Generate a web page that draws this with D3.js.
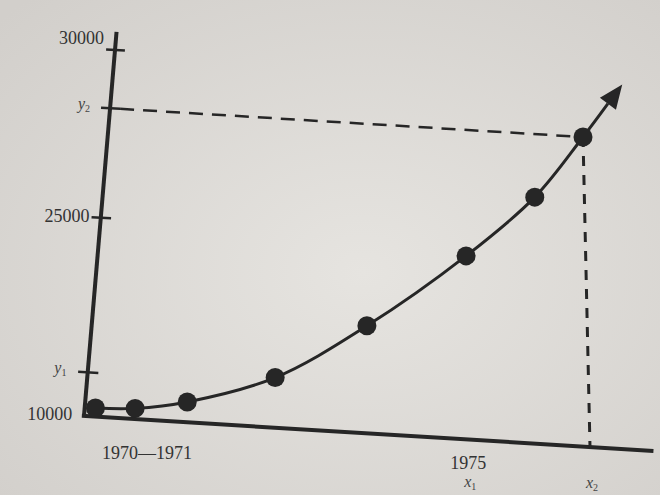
<!DOCTYPE html>
<html><head><meta charset="utf-8">
<script src="https://cdn.jsdelivr.net/npm/d3@7"></script>
<style>html,body{margin:0;padding:0;background:#dcdad6;}svg{display:block;}</style>
</head><body><svg id="c" width="660" height="495"></svg>
<script>
const years = [1970, 1970.56, 1971.29, 1972.52, 1973.81, 1975.24, 1976.26, 1977];
const values = [10622, 10777, 11477, 13653, 17927, 23756, 26356, 28220];
const arrowEnd = [1977.62, 29887];
const yTickValues = [10000, 25000, 30000];
const yTickLabels = ["10000", "25000", "30000"];
const ySymbolValues = [13187, 28220];
const ySymbolSubs = ["1", "2"];
const xLabelValues = [1970.74, 1975.28];
const xLabelTexts = ["1970\u20141971", "1975"];
const xSymbolValues = [1975.28, 1977];
const xSymbolSubs = ["1", "2"];

const svg = d3.select("#c");
const W = 660, H = 495;

// perspective of the photographed page: plot space -> screen
function gauss(A, b) {
  const n = b.length;
  for (let i = 0; i < n; i++) {
    let m = i;
    for (let r = i + 1; r < n; r++) if (Math.abs(A[r][i]) > Math.abs(A[m][i])) m = r;
    [A[i], A[m]] = [A[m], A[i]]; [b[i], b[m]] = [b[m], b[i]];
    for (let r = i + 1; r < n; r++) {
      const f = A[r][i] / A[i][i];
      for (let c = i; c < n; c++) A[r][c] -= f * A[i][c];
      b[r] -= f * b[i];
    }
  }
  const x = new Array(n).fill(0);
  for (let i = n - 1; i >= 0; i--) {
    let s = b[i];
    for (let c = i + 1; c < n; c++) s -= A[i][c] * x[c];
    x[i] = s / A[i][i];
  }
  return x;
}
const src = [[0, 0], [0, 370], [471, 0], [471, 307]];
const dst = [[84, 416], [115, 50], [590, 447], [583, 137]];
const A = [], bb = [];
src.forEach(([u, v], i) => {
  const [x, y] = dst[i];
  A.push([u, v, 1, 0, 0, 0, -u * x, -v * x]); bb.push(x);
  A.push([0, 0, 0, u, v, 1, -u * y, -v * y]); bb.push(y);
});
const h = gauss(A, bb);
function P(u, v) {
  const w = h[6] * u + h[7] * v + 1;
  return [(h[0] * u + h[1] * v + h[2]) / w, (h[3] * u + h[4] * v + h[5]) / w];
}

const xScale = d3.scaleLinear().domain([1970, 1977]).range([10, 471]);
const yScale = d3.scaleLinear().domain([10000, 25000, 30000]).range([0, 193, 370]);

const defs = svg.append("defs");
const rg = defs.append("radialGradient").attr("id", "bg").attr("cx", "55%").attr("cy", "55%").attr("r", "75%");
rg.append("stop").attr("offset", "0%").attr("stop-color", "#e6e4e0");
rg.append("stop").attr("offset", "100%").attr("stop-color", "#d2cfcb");
svg.append("rect").attr("width", W).attr("height", H).attr("fill", "url(#bg)");

const ink = "#262626";
const seg = (p, q) => "M" + P(...p).join(",") + "L" + P(...q).join(",");

// axes
svg.append("path").attr("d", seg([0, 0], [0, 390])).attr("stroke", ink).attr("stroke-width", 4).attr("fill", "none");
svg.append("path").attr("d", seg([-2, 0], [530, 0])).attr("stroke", ink).attr("stroke-width", 4).attr("fill", "none");

// y ticks
yTickValues.concat(ySymbolValues).forEach(v => {
  if (v === yScale.domain()[0]) return;
  svg.append("path").attr("d", seg([-9, yScale(v)], [10, yScale(v)])).attr("stroke", ink).attr("stroke-width", 2.5);
});

const serif = "'Liberation Serif','DejaVu Serif',serif";
yTickValues.forEach((v, i) => {
  const [x, y] = P(-11, yScale(v));
  const dy = v === 30000 ? -5 : 5;
  svg.append("text").attr("x", x).attr("y", y + dy).attr("text-anchor", "end")
    .attr("font-family", serif).attr("font-size", 18).attr("fill", "#333").text(yTickLabels[i]);
});
ySymbolValues.forEach((v, i) => {
  const [x, y] = P(-20, yScale(v));
  const t = svg.append("text").attr("x", x).attr("y", y + 2).attr("text-anchor", "end")
    .attr("font-family", serif).attr("font-size", 16).attr("fill", "#444").attr("font-style", "italic");
  t.append("tspan").text("y");
  t.append("tspan").attr("font-size", 10).attr("dy", 3).attr("font-style", "normal").text(ySymbolSubs[i]);
});

// x labels
xLabelValues.forEach((v, i) => {
  const [x, y] = P(xScale(v), 0);
  svg.append("text").attr("x", x).attr("y", y + (i === 0 ? 39 : 29)).attr("text-anchor", "middle")
    .attr("font-family", serif).attr("font-size", 18).attr("fill", "#333").text(xLabelTexts[i]);
});
xSymbolValues.forEach((v, i) => {
  const [x, y] = P(xScale(v), 0);
  const t = svg.append("text").attr("x", x + 2).attr("y", y + (i === 0 ? 47 : 41)).attr("text-anchor", "middle")
    .attr("font-family", serif).attr("font-size", 16).attr("fill", "#444").attr("font-style", "italic");
  t.append("tspan").text("x");
  t.append("tspan").attr("font-size", 10).attr("dy", 3).attr("font-style", "normal").text(xSymbolSubs[i]);
});

// dashed guides to the last point
const last = values.length - 1;
const lu = xScale(years[last]), lv = yScale(values[last]);
svg.append("path").attr("d", seg([10, lv], [lu, lv])).attr("stroke", ink).attr("stroke-width", 2.5)
  .attr("stroke-dasharray", "14,9").attr("fill", "none");
svg.append("path").attr("d", seg([lu, lv], [lu, 0])).attr("stroke", ink).attr("stroke-width", 3)
  .attr("stroke-dasharray", "10,9").attr("fill", "none");

// curve with arrow
const pts = years.map((yr, i) => P(xScale(yr), yScale(values[i])));
const tip = P(xScale(arrowEnd[0]), yScale(arrowEnd[1]));
const pre = pts[pts.length - 1];
const ang = Math.atan2(tip[1] - pre[1], tip[0] - pre[0]);
const L = 24, HW = 10;
const base = [tip[0] - L * Math.cos(ang), tip[1] - L * Math.sin(ang)];
const line = d3.line().curve(d3.curveCatmullRom.alpha(0.5));
svg.append("path").attr("d", line(pts.concat([base]))).attr("stroke", ink).attr("stroke-width", 3).attr("fill", "none");
svg.append("path").attr("d", "M" + tip.join(",") +
  "L" + [base[0] + HW * Math.sin(ang), base[1] - HW * Math.cos(ang)].join(",") +
  "L" + [base[0] - HW * Math.sin(ang), base[1] + HW * Math.cos(ang)].join(",") + "Z").attr("fill", ink);

// points
svg.selectAll("circle.pt").data(pts).join("circle").attr("class", "pt")
  .attr("cx", d => d[0]).attr("cy", d => d[1]).attr("r", 9.5).attr("fill", ink);
</script></body></html>
